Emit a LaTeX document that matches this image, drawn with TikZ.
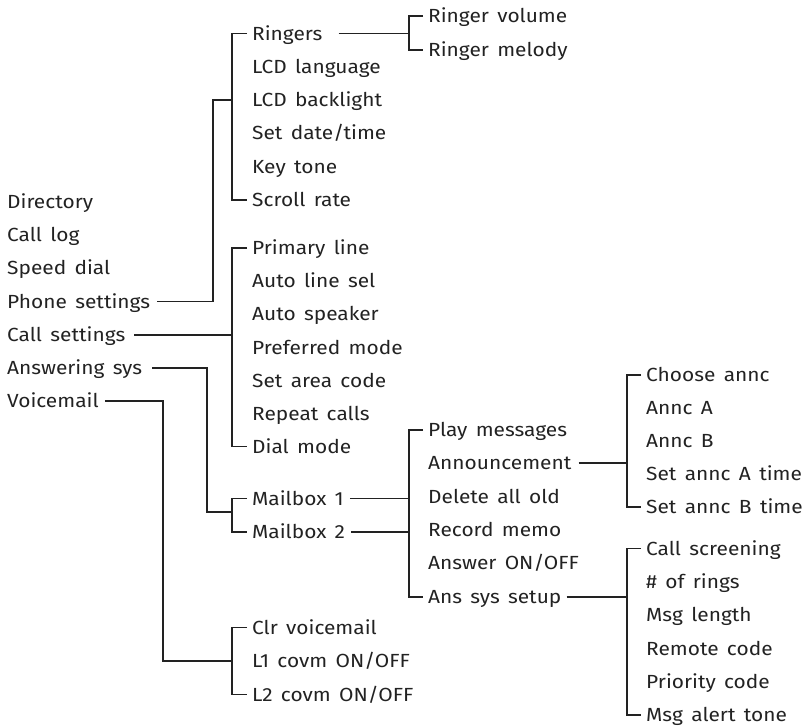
\documentclass[tikz,border=0pt]{standalone}
\usepackage{fontspec}
\setmainfont{Fira Sans}[FakeStretch=1.1,WordSpace=1.5]
\definecolor{ink}{HTML}{222222}
\begin{document}
\begin{tikzpicture}[x=1pt,y=-1pt,
  item/.style={anchor=west,inner sep=0pt,text height=13pt,text depth=0pt,
    font=\fontsize{19}{19}\selectfont,text=ink},
  conn/.style={draw=ink,line width=1.8pt}]
\useasboundingbox (0,0) rectangle (808,726);
% column 1
\node[item] (dir) at (7,202) {Directory};
\node[item] (clog) at (7,235) {Call log};
\node[item] (sd) at (7,268) {Speed dial};
\node[item] (ps) at (7,301.5) {Phone settings};
\node[item] (cs) at (7,335) {Call settings};
\node[item] (as) at (7,368) {Answering sys};
\node[item] (vm) at (7,401) {Voicemail};
% phone settings
\node[item] (rg) at (252,33.5) {Ringers};
\node[item] (lcdl) at (252,66.8) {LCD language};
\node[item] (lcdb) at (252,100) {LCD backlight};
\node[item] (sdt) at (252,133.3) {Set date/time};
\node[item] (kt) at (252,166.6) {Key tone};
\node[item] (sr) at (252,200) {Scroll rate};
\node[item] (rv) at (428,16) {Ringer volume};
\node[item] (rm) at (428,50) {Ringer melody};
% call settings
\node[item] (pl) at (252,248) {Primary line};
\node[item] (als) at (252,281) {Auto line sel};
\node[item] (asp) at (252,314) {Auto speaker};
\node[item] (pm) at (252,347.5) {Preferred mode};
\node[item] (sac) at (252,380.5) {Set area code};
\node[item] (rc) at (252,413.5) {Repeat calls};
\node[item] (dm) at (252,446.5) {Dial mode};
% answering sys
\node[item] (mb1) at (252,498.5) {Mailbox 1};
\node[item] (mb2) at (252,532) {Mailbox 2};
\node[item] (pmsg) at (428,430) {Play messages};
\node[item] (ann) at (428,463.3) {Announcement};
\node[item] (dao) at (428,496.6) {Delete all old};
\node[item] (rmemo) at (428,530) {Record memo};
\node[item] (aoo) at (428,563.3) {Answer ON/OFF};
\node[item] (ass) at (428,596.6) {Ans sys setup};
\node[item] (ca) at (646,375) {Choose annc};
\node[item] (aa) at (646,408) {Annc A};
\node[item] (ab) at (646,441) {Annc B};
\node[item] (sat) at (646,474) {Set annc A time};
\node[item] (sbt) at (646,507) {Set annc B time};
\node[item] (cscr) at (646,548.5) {Call screening};
\node[item] (nr) at (646,582) {\# of rings};
\node[item] (ml) at (646,615) {Msg length};
\node[item] (rcode) at (646,648.5) {Remote code};
\node[item] (pc) at (646,682) {Priority code};
\node[item] (mat) at (646,715) {Msg alert tone};
% voicemail
\node[item] (cv) at (252,627.5) {Clr voicemail};
\node[item] (l1) at (252,661) {L1 covm ON/OFF};
\node[item] (l2) at (252,694.5) {L2 covm ON/OFF};
% junction coordinates
\coordinate (j2) at (232,0);
\coordinate (j3) at (409,0);
\coordinate (j4) at (627,0);
\coordinate (jps) at (213,0);
\coordinate (jas) at (207,0);
\coordinate (jvm) at (163,0);
\coordinate (jmb) at (232,512);
% brackets
\draw[conn] ([xshift=-5]rg.west) -| (j2 |- sr.west) -- ([xshift=-5]sr.west);
\draw[conn] ([xshift=-5]rv.west) -| (j3 |- rm.west) -- ([xshift=-5]rm.west);
\draw[conn] ([xshift=-5]pl.west) -| (j2 |- dm.west) -- ([xshift=-5]dm.west);
\draw[conn] ([xshift=-5]mb1.west) -| (j2 |- mb2.west) -- ([xshift=-5]mb2.west);
\draw[conn] ([xshift=-5]pmsg.west) -| (j3 |- ass.west) -- ([xshift=-5]ass.west);
\draw[conn] ([xshift=-5]ca.west) -| (j4 |- sbt.west) -- ([xshift=-5]sbt.west);
\draw[conn] ([xshift=-5]cscr.west) -| (j4 |- mat.west) -- ([xshift=-5]mat.west);
\draw[conn] ([xshift=-5]cv.west) -| (j2 |- l2.west) -- ([xshift=-5]l2.west);
% parent connectors
\draw[conn] ([xshift=7]ps.east) -| (jps |- lcdb.west) -- (j2 |- lcdb.west);
\draw[conn] ([xshift=16]rg.east) -- (j3 |- rg.east);
\draw[conn] ([xshift=9]cs.east) -- (j2 |- cs.east);
\draw[conn] ([xshift=10]as.east) -| (jas |- jmb) -- (jmb);
\draw[conn] ([xshift=6]vm.east) -| (jvm |- l1.west) -- (j2 |- l1.west);
\draw[conn] ([xshift=6]mb1.east) -- (j3 |- mb1.east);
\draw[conn] ([xshift=6]mb2.east) -- (j3 |- mb2.east);
\draw[conn] ([xshift=7]ann.east) -- (j4 |- ann.east);
\draw[conn] ([xshift=5]ass.east) -- (j4 |- ass.east);
\end{tikzpicture}
\end{document}
